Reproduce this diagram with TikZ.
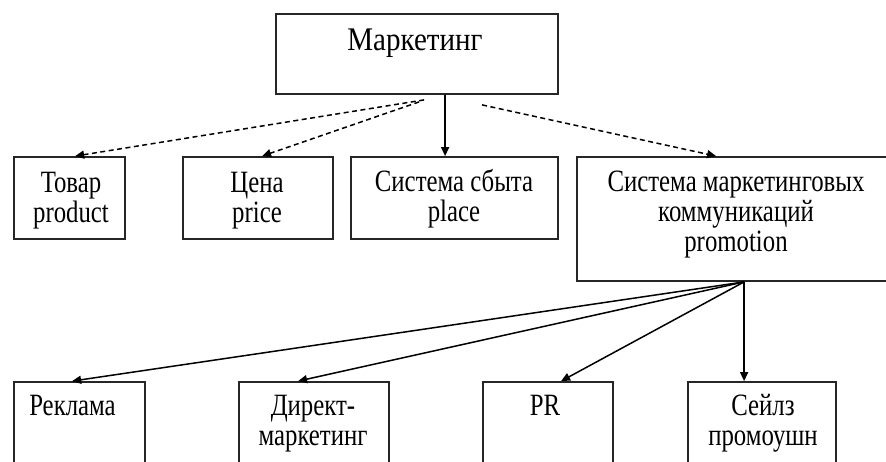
\documentclass[tikz,border=0pt]{standalone}
\usepackage{fontspec}
\setmainfont{Liberation Serif}[FakeStretch=0.8]
\newfontfamily\topfont{Liberation Serif}[FakeStretch=0.88]
\usetikzlibrary{arrows.meta}
\begin{document}
\begin{tikzpicture}[x=1pt,y=-1pt,
  box/.style={draw=black!85, line width=1.8pt, inner sep=0pt, rectangle},
  txt/.style={inner sep=0pt, align=center, anchor=base, font=\fontsize{31pt}{30pt}\selectfont},
  bigtxt/.style={inner sep=0pt, anchor=base, font=\topfont\fontsize{33pt}{34pt}\selectfont},
  arr/.style={line width=1.5pt, -{Triangle[length=9pt,width=8pt]}},
  dsh/.style={arr, dash pattern=on 5pt off 3.5pt}
]
\useasboundingbox (0,0) rectangle (886,461);
\clip (0,0) rectangle (886,461);
\fill[white] (0,0) rectangle (886,461);
% boxes
\node[box, minimum width=282pt, minimum height=80pt] (mk) at (417,54) {};
\node[box, minimum width=111pt, minimum height=82pt] (tovar) at (69.5,198) {};
\node[box, minimum width=150pt, minimum height=82pt] (cena) at (258,198) {};
\node[box, minimum width=207pt, minimum height=82pt] (sbyt) at (454.5,198) {};
\node[box, minimum width=318pt, minimum height=124pt] (smk) at (736,219) {};
\node[box, minimum width=131pt, minimum height=88pt] (rekl) at (79.5,426) {};
\node[box, minimum width=150pt, minimum height=88pt] (dir) at (314,426) {};
\node[box, minimum width=130pt, minimum height=88pt] (pr) at (548,426) {};
\node[box, minimum width=148pt, minimum height=88pt] (sales) at (762,426) {};
% texts (anchor = baseline of the last line)
\node[bigtxt] (tmk) at (415,50) {Маркетинг};
\node[txt] (ttovar) at (71,222) {Товар\\product};
\node[txt] (tcena) at (257,222) {Цена\\price};
\node[txt] (tsbyt) at (454,221) {Система сбыта\\place};
\node[txt] (tsmk) at (736,251) {Система маркетинговых\\коммуникаций\\promotion};
\node[txt] (trekl) at (72.5,415) {Реклама};
\node[txt] (tdir) at (313,445) {Директ-\\маркетинг};
\node[txt] (tpr) at (545,415) {PR};
\node[txt] (tsales) at (763,445) {Сейлз\\промоушн};
% connectors
\draw[dsh] ([xshift=149pt,yshift=-5pt]mk.south west) -- ([xshift=62pt]tovar.north west);
\draw[dsh] ([xshift=144pt,yshift=-7pt]mk.south west) -- ([xshift=80pt]cena.north west);
\draw[arr] ([xshift=170pt]mk.south west) -- ([xshift=95pt]sbyt.north west);
\draw[dsh] ([xshift=207pt,yshift=-10pt]mk.south west) -- ([xshift=140pt]smk.north west);
\draw[arr] ([xshift=168pt]smk.south west) -- ([xshift=59pt]rekl.north west);
\draw[arr] ([xshift=168pt]smk.south west) -- ([xshift=60pt]dir.north west);
\draw[arr] ([xshift=168pt]smk.south west) -- ([xshift=79pt]pr.north west);
\draw[arr] ([xshift=168pt]smk.south west) -- ([xshift=57pt]sales.north west);
\end{tikzpicture}
\end{document}
